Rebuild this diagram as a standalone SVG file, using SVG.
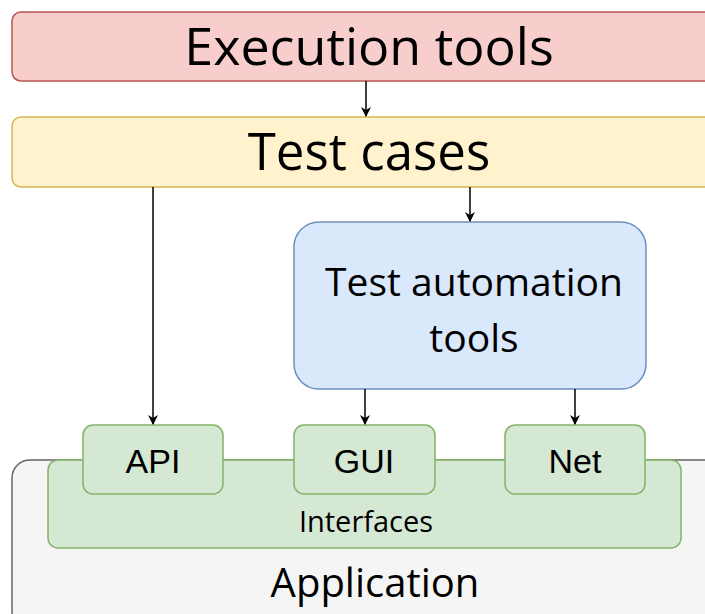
<svg xmlns="http://www.w3.org/2000/svg" width="705" height="614" viewBox="0 0 705 614">
  <style>
    .lbl { font-family: "Open Sans", "Noto Sans", sans-serif; fill: #000; text-anchor: middle; }
    .sm { font-family: "Liberation Sans", Arial, sans-serif; fill: #000; text-anchor: middle; font-size: 34px; }
    .edge { stroke: #000; stroke-width: 1.5; fill: none; marker-end: url(#arr); }
  </style>
  <defs>
    <marker id="arr" viewBox="0 0 10 10" refX="9" refY="5" markerWidth="10" markerHeight="10" markerUnits="userSpaceOnUse" orient="auto">
      <path d="M0,0 L10,5 L0,10 L3,5 Z" fill="#000"/>
    </marker>
  </defs>
  <rect width="705" height="614" fill="#fff"/>

  <g id="execution-tools">
    <rect x="12" y="12" width="710" height="69" rx="9" fill="#f8cecc" stroke="#b85450" stroke-width="1.5"/>
    <text class="lbl" x="369" y="65" font-size="52">Execution tools</text>
  </g>

  <g id="test-cases">
    <rect x="12" y="117" width="710" height="70" rx="9" fill="#fff2cc" stroke="#d6b656" stroke-width="1.5"/>
    <text class="lbl" x="369" y="170" font-size="51">Test cases</text>
  </g>

  <g id="test-automation-tools">
    <rect x="294" y="222" width="352" height="167" rx="25" fill="#dae8fc" stroke="#6c8ebf" stroke-width="1.5"/>
    <text class="lbl" x="474" y="296" font-size="39">Test automation</text>
    <text class="lbl" x="474" y="352" font-size="39">tools</text>
  </g>

  <g id="application">
    <rect x="12" y="460" width="710" height="170" rx="18" fill="#f5f5f5" stroke="#666" stroke-width="1.5"/>
    <text class="lbl" x="375" y="597" font-size="40">Application</text>
  </g>

  <g id="interfaces">
    <rect x="48" y="460" width="633" height="88" rx="10" fill="#d5e8d4" stroke="#82b366" stroke-width="1.5"/>
    <text class="lbl" x="366" y="532" font-size="29">Interfaces</text>
  </g>

  <g id="api">
    <rect x="83" y="425" width="140" height="69" rx="10" fill="#d5e8d4" stroke="#82b366" stroke-width="1.5"/>
    <text class="sm" x="153" y="473">API</text>
  </g>

  <g id="gui">
    <rect x="294" y="425" width="141" height="69" rx="10" fill="#d5e8d4" stroke="#82b366" stroke-width="1.5"/>
    <text class="sm" x="364" y="473">GUI</text>
  </g>

  <g id="net">
    <rect x="505" y="425" width="140" height="69" rx="10" fill="#d5e8d4" stroke="#82b366" stroke-width="1.5"/>
    <text class="sm" x="575" y="473">Net</text>
  </g>

  <g id="connectors">
    <line class="edge" x1="366" y1="81" x2="366" y2="116"/>
    <line class="edge" x1="470" y1="187" x2="470" y2="221"/>
    <line class="edge" x1="153" y1="187" x2="153" y2="424"/>
    <line class="edge" x1="365" y1="389" x2="365" y2="424"/>
    <line class="edge" x1="575" y1="389" x2="575" y2="424"/>
  </g>
</svg>
